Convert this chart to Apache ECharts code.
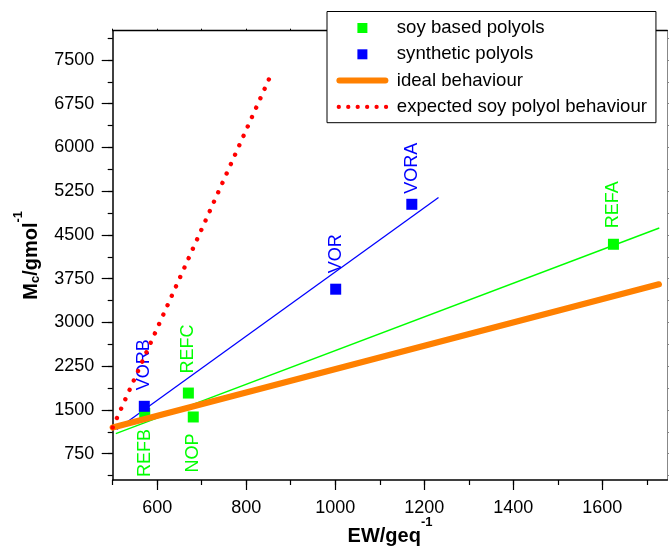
<!DOCTYPE html>
<html>
<head>
<meta charset="utf-8">
<script src="https://cdn.jsdelivr.net/npm/echarts@6/dist/echarts.min.js"></script>
<style>
  html, body { margin: 0; padding: 0; background: #fff; }
  #chart { width: 669px; height: 547px; }
</style>
</head>
<body>
<div id="chart"></div>
<script>
// Crosslink density data: molecular weight between crosslinks vs equivalent weight
const soyNames = ['REFA', 'REFB', 'REFC', 'NOP'];
const soyEW = [1625, 572, 670, 681];
const soyMc = [4340, 1440, 1790, 1380];

const synNames = ['VORA', 'VOR', 'VORB'];
const synEW = [1172, 1001, 571];
const synMc = [5025, 3570, 1563];

// Fitted trend lines (end points)
const soyFitEW = [507, 1728];
const soyFitMc = [1096, 4619];
const synFitEW = [509, 1232];
const synFitMc = [1164, 5140];

// Reference behaviours
const idealEW = [500, 1727];
const idealMc = [1200, 3654];
const expectedEW = [500, 852];
const expectedMc = [1200, 7185];

// Axis ticks
const xTickLabels = [600, 800, 1000, 1200, 1400, 1600];
const xMinorTicks = [500, 600, 700, 800, 900, 1000, 1100, 1200, 1300, 1400, 1500, 1600, 1700];
const yTickLabels = [750, 1500, 2250, 3000, 3750, 4500, 5250, 6000, 6750, 7500];
const yMinorTicks = [375, 750, 1125, 1500, 1875, 2250, 2625, 3000, 3375, 3750, 4125, 4500,
  4875, 5250, 5625, 6000, 6375, 6750, 7125, 7500, 7875];

const FONT = 'Liberation Sans, Arial, Helvetica, sans-serif';
const GREEN = '#00ff00', BLUE = '#0000ff', ORANGE = '#ff8000', RED = '#ff0000';

const pairs = (xs, ys) => xs.map((x, i) => [x, ys[i]]);
const plain = v => String(v);

// labels hanging below their marker; others stand above
const belowLabels = ['REFB', 'NOP'];
const labelGap = { REFC: 14, VORA: 5, REFB: 10, NOP: 11 };

function pointLabel(name, color) {
  const below = belowLabels.indexOf(name) >= 0;
  return {
    show: true,
    formatter: '{b}',
    position: below ? 'bottom' : 'top',
    rotate: 90,
    align: below ? 'right' : 'left',
    verticalAlign: 'middle',
    distance: labelGap[name] != null ? labelGap[name] : 10.5,
    color: color,
    fontSize: 18,
    fontFamily: FONT
  };
}

function points(names, xs, ys, color) {
  return names.map((n, i) => ({ name: n, value: [xs[i], ys[i]], label: pointLabel(n, color) }));
}

// legend glyphs (52 x 10 box)
const squareIcon = 'path://M0,0L0,0M21,0L31,0L31,10L21,10ZM52,10L52,10';
const thickLineIcon = 'path://M0,0L0,0M3,2L49,2A3,3,0,0,1,49,8L3,8A3,3,0,0,1,3,2ZM52,10L52,10';
let dotsIcon = 'path://M0,0L0,0';
for (let k = 0; k < 6; k++) {
  const cx = 2.4 + 9.45 * k, r = 2.15;
  dotsIcon += 'M' + (cx - r) + ',5A' + r + ',' + r + ',0,1,0,' + (cx + r) + ',5A' + r + ',' + r + ',0,1,0,' + (cx - r) + ',5Z';
}
dotsIcon += 'M52,10L52,10';

const gridBox = { left: 112.7, top: 30.7, right: 1.7, bottom: 67, outerBoundsMode: 'none', containLabel: false };
const X_MIN = 500, X_MAX = 1746, Y_MIN = 300, Y_MAX = 8000;

const chart = echarts.init(document.getElementById('chart'), null, { renderer: 'canvas' });

chart.setOption({
  animation: false,
  backgroundColor: '#fff',
  textStyle: { fontFamily: FONT },
  grid: [Object.assign({}, gridBox), Object.assign({}, gridBox)],
  legend: {
    orient: 'vertical',
    left: 327,
    top: 11.5,
    padding: [6.5, 9, 5.8, 9.4],
    itemWidth: 52,
    itemHeight: 10,
    itemGap: 6.3,
    backgroundColor: '#fff',
    borderColor: '#000',
    borderWidth: 1,
    itemStyle: { borderWidth: 0, opacity: 1 },
    textStyle: { fontSize: 18.6, color: '#000', fontFamily: FONT, lineHeight: 20, padding: [0, 0, 0, 3.4] },
    selectedMode: false,
    data: [
      { name: 'soy based polyols', icon: squareIcon },
      { name: 'synthetic polyols', icon: squareIcon },
      { name: 'ideal behaviour', icon: thickLineIcon },
      { name: 'expected soy polyol behaviour', icon: dotsIcon }
    ]
  },
  xAxis: [
    {
      type: 'value', gridIndex: 0, position: 'bottom', min: X_MIN, max: X_MAX,
      name: '{b|EW/geq}{sup|-1}',
      nameLocation: 'middle', nameGap: 36, nameMoveOverlap: false,
      nameTextStyle: {
        rich: {
          b: { fontSize: 20, fontWeight: 'bold', lineHeight: 40, color: '#000', fontFamily: FONT },
          sup: { fontSize: 13, fontWeight: 'bold', lineHeight: 13, verticalAlign: 'top', color: '#000', fontFamily: FONT }
        }
      },
      axisLine: { show: true, onZero: false, lineStyle: { color: '#000', width: 1.5 } },
      axisTick: { show: true, inside: false, length: 10, customValues: xTickLabels, lineStyle: { color: '#000', width: 1.2 } },
      axisLabel: { show: true, customValues: xTickLabels, formatter: plain, margin: 19, fontSize: 18, color: '#000', fontFamily: FONT },
      splitLine: { show: false }
    },
    {
      type: 'value', gridIndex: 1, position: 'bottom', min: X_MIN, max: X_MAX,
      axisLine: { show: false, onZero: false },
      axisTick: { show: true, inside: false, length: 5, customValues: xMinorTicks, lineStyle: { color: '#000', width: 1.2 } },
      axisLabel: { show: false },
      splitLine: { show: false }
    },
    {
      type: 'value', gridIndex: 1, position: 'top', min: X_MIN, max: X_MAX,
      axisLine: { show: true, onZero: false, lineStyle: { color: '#000', width: 1.3 } },
      axisTick: { show: true, inside: false, length: 2, customValues: xMinorTicks, lineStyle: { color: '#000', width: 1 } },
      axisLabel: { show: false },
      splitLine: { show: false }
    }
  ],
  yAxis: [
    {
      type: 'value', gridIndex: 0, position: 'left', min: Y_MIN, max: Y_MAX,
      name: '{b|M}{sub|c}{b|/gmol}{sup|-1}',
      nameLocation: 'middle', nameGap: 61, nameRotate: 90, nameMoveOverlap: false,
      nameTextStyle: {
        rich: {
          b: { fontSize: 20, fontWeight: 'bold', lineHeight: 40, color: '#000', fontFamily: FONT },
          sub: { fontSize: 13, fontWeight: 'bold', lineHeight: 20, verticalAlign: 'middle', padding: [8, 0, 0, 0], color: '#000', fontFamily: FONT },
          sup: { fontSize: 13, fontWeight: 'bold', lineHeight: 13, verticalAlign: 'top', color: '#000', fontFamily: FONT }
        }
      },
      axisLine: { show: true, onZero: false, lineStyle: { color: '#000', width: 1.5 } },
      axisTick: { show: true, inside: false, length: 11, customValues: yTickLabels, lineStyle: { color: '#000', width: 1.2 } },
      axisLabel: { show: true, customValues: yTickLabels, formatter: plain, margin: 18.5, fontSize: 18, color: '#000', fontFamily: FONT },
      splitLine: { show: false }
    },
    {
      type: 'value', gridIndex: 1, position: 'left', min: Y_MIN, max: Y_MAX,
      axisLine: { show: false, onZero: false },
      axisTick: { show: true, inside: false, length: 5, customValues: yMinorTicks, lineStyle: { color: '#000', width: 1.2 } },
      axisLabel: { show: false },
      splitLine: { show: false }
    },
    {
      type: 'value', gridIndex: 1, position: 'right', min: Y_MIN, max: Y_MAX,
      axisLine: { show: true, onZero: false, lineStyle: { color: '#888', width: 1 } },
      axisTick: { show: true, inside: false, length: 2, customValues: yMinorTicks, lineStyle: { color: '#888', width: 1 } },
      axisLabel: { show: false },
      splitLine: { show: false }
    }
  ],
  series: [
    {
      name: 'soy fit', type: 'line', xAxisIndex: 0, yAxisIndex: 0, z: 1,
      data: pairs(soyFitEW, soyFitMc), symbol: 'none', silent: true,
      lineStyle: { color: GREEN, width: 1.4 }, itemStyle: { color: GREEN }
    },
    {
      name: 'synthetic fit', type: 'line', xAxisIndex: 0, yAxisIndex: 0, z: 1,
      data: pairs(synFitEW, synFitMc), symbol: 'none', silent: true,
      lineStyle: { color: BLUE, width: 1.3 }, itemStyle: { color: BLUE }
    },
    {
      name: 'soy based polyols', type: 'scatter', xAxisIndex: 0, yAxisIndex: 0, z: 2,
      symbol: 'rect', symbolSize: 11,
      itemStyle: { color: GREEN, opacity: 1 },
      data: points(soyNames, soyEW, soyMc, GREEN)
    },
    {
      name: 'ideal behaviour', type: 'line', xAxisIndex: 0, yAxisIndex: 0, z: 3,
      data: pairs(idealEW, idealMc), symbol: 'none',
      lineStyle: { color: ORANGE, width: 6.2, cap: 'round' }, itemStyle: { color: ORANGE }
    },
    {
      name: 'synthetic polyols', type: 'scatter', xAxisIndex: 0, yAxisIndex: 0, z: 4,
      symbol: 'rect', symbolSize: 11,
      itemStyle: { color: BLUE, opacity: 1 },
      data: points(synNames, synEW, synMc, BLUE)
    },
    {
      name: 'expected soy polyol behaviour', type: 'line', xAxisIndex: 0, yAxisIndex: 0, z: 5,
      data: pairs(expectedEW, expectedMc), symbol: 'none',
      lineStyle: { color: RED, width: 4.4, type: [0.01, 10.3], cap: 'round' }, itemStyle: { color: RED }
    }
  ]
});
</script>
</body>
</html>
